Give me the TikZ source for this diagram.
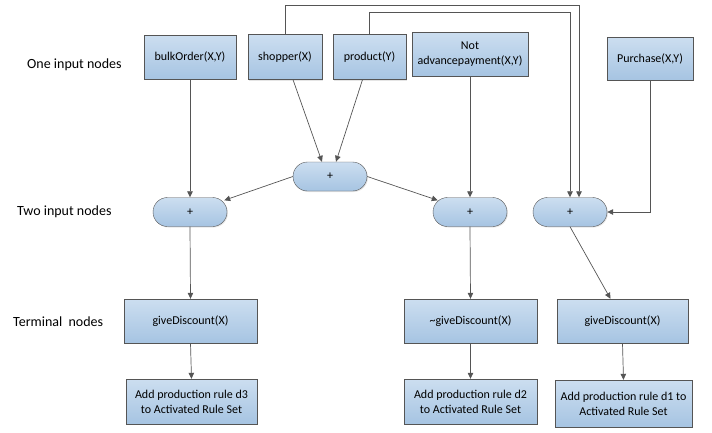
\documentclass[tikz,border=0pt]{standalone}
\usepackage{fontspec}
\setmainfont{Carlito}
\usetikzlibrary{arrows.meta,shadows}

\definecolor{boxtop}{RGB}{204,222,240}
\definecolor{boxbot}{RGB}{166,196,226}
\definecolor{edgegray}{RGB}{85,85,85}

\begin{document}
\begin{tikzpicture}[x=1pt, y=-1pt,
  box/.style={draw=edgegray, top color=boxtop, bottom color=boxbot,
    align=center, inner sep=1pt, font=\fontsize{12}{15}\selectfont,
    drop shadow={shadow xshift=1pt, shadow yshift=-1pt, fill=black!20}},
  plusnode/.style={box, rounded corners=14.5pt, minimum width=74pt, minimum height=29pt},
  conn/.style={draw=edgegray, line width=0.7pt, -{Triangle[length=6pt,width=5.5pt]}},
  level/.style={font=\fontsize{14}{16}\selectfont, anchor=west, inner sep=0pt}]
\useasboundingbox (0,0) rectangle (712,432);
% row labels
\node[level] (lone)  at (27,65)  {One input nodes};
\node[level] (ltwo)  at (17,212) {Two input nodes};
\node[level] (lterm) at (13,322) {Terminal\ \ nodes};
% one input nodes
\node[box, minimum width=92pt,  minimum height=44pt] (bulk)     at (190,57)    {bulkOrder(X,Y)};
\node[box, minimum width=74pt,  minimum height=45pt] (shopper)  at (285,57)    {shopper(X)};
\node[box, minimum width=73pt,  minimum height=45pt] (product)  at (369.5,57)  {product(Y)};
\node[box, minimum width=116pt, minimum height=44pt] (notadv)   at (470,54)    {Not\\advancepayment(X,Y)};
\node[box, minimum width=86pt,  minimum height=43pt] (purchase) at (650,58.5)  {Purchase(X,Y)};
% two input nodes
\node[plusnode] (plusM)  at (330,176.5) {+};
\node[plusnode] (plusL)  at (190,212)   {+};
\node[plusnode] (plusR)  at (470,212)   {+};
\node[plusnode] (plusRR) at (570,212)   {+};
% terminal nodes
\node[box, minimum width=133pt, minimum height=44pt] (discL) at (190.5,321) {giveDiscount(X)};
\node[box, minimum width=133pt, minimum height=44pt] (discM) at (470.5,321) {\textasciitilde giveDiscount(X)};
\node[box, minimum width=131pt, minimum height=44pt] (discR) at (622.5,321) {giveDiscount(X)};
% rule set actions
\node[box, minimum width=131pt, minimum height=45pt] (ruleL) at (191.5,401.5) {Add production rule d3\\to Activated Rule Set};
\node[box, minimum width=133pt, minimum height=45pt] (ruleM) at (470.5,401.5) {Add production rule d2\\to Activated Rule Set};
\node[box, minimum width=137pt, minimum height=47pt] (ruleR) at (623.5,403.5) {Add production rule d1 to\\Activated Rule Set};
% connectors
\draw[conn] (bulk.south) -- (plusL.north);
\draw[conn] ([xshift=8pt]shopper.south) -- ([xshift=-8pt]plusM.north);
\draw[conn] ([xshift=-7pt]product.south) -- ([xshift=6pt]plusM.north);
\draw[conn] (plusM.west) -- ([xshift=-3pt,yshift=-3pt]plusL.north east);
\draw[conn] (plusM.east) -- ([xshift=5pt,yshift=-3pt]plusR.north west);
\draw[conn] (notadv.south) -- (plusR.north);
\draw[conn] (shopper.north) -- ++(0,-28.5) -| ([xshift=9pt]plusRR.north);
\draw[conn] (product.north) -- ++(0,-21.5) -| (plusRR.north);
\draw[conn] (purchase.south) |- (plusRR.east);
\draw[conn] (plusL.south) -- (discL.north);
\draw[conn] (plusR.south) -- (discM.north);
\draw[conn] (plusRR.south) -- ([xshift=-12pt]discR.north);
\draw[conn] (discL.south) -- (ruleL.north);
\draw[conn] (discM.south) -- (ruleM.north);
\draw[conn] (discR.south) -- (ruleR.north);
\end{tikzpicture}
\end{document}
